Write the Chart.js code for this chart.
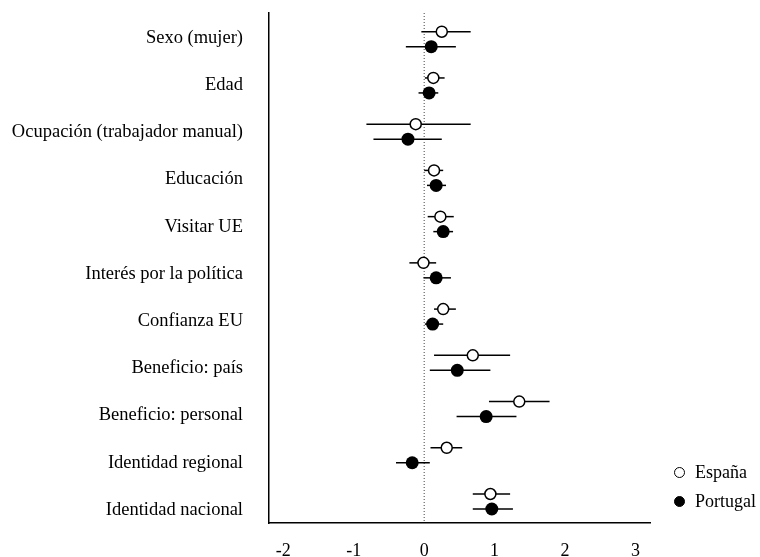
<!DOCTYPE html>
<html>
<head>
<meta charset="utf-8">
<script src="https://cdn.jsdelivr.net/npm/chart.js@4/dist/chart.umd.min.js"></script>
<style>
  html, body { margin: 0; padding: 0; background: #fff; }
  #wrap { position: relative; width: 760px; height: 557px; }
  #legend { position: absolute; left: 674px; top: 458px; font-family: "Liberation Serif", serif; font-size: 18px; color: #000; }
  #legend .item { display: flex; align-items: center; height: 29px; }
  #legend .dot { width: 9px; height: 9px; border: 1.5px solid #000; border-radius: 50%; margin-right: 10px; }
</style>
</head>
<body>
<div id="wrap">
  <canvas id="chart" width="760" height="557"></canvas>
  <div id="legend"></div>
</div>
<script>
const variables = ['Sexo (mujer)', 'Edad', 'Ocupación (trabajador manual)', 'Educación', 'Visitar UE',
  'Interés por la política', 'Confianza EU', 'Beneficio: país', 'Beneficio: personal',
  'Identidad regional', 'Identidad nacional'];
const seriesNames = ['España', 'Portugal'];

const espana   = [0.25, 0.13, -0.12, 0.14, 0.23, -0.01, 0.27, 0.69, 1.35, 0.32, 0.94];
const espanaLo = [-0.04, 0.01, -0.82, 0.00, 0.05, -0.21, 0.14, 0.14, 0.92, 0.09, 0.69];
const espanaHi = [0.66, 0.29, 0.66, 0.27, 0.42, 0.17, 0.45, 1.22, 1.78, 0.54, 1.22];

const portugal   = [0.10, 0.07, -0.23, 0.17, 0.27, 0.17, 0.12, 0.47, 0.88, -0.17, 0.96];
const portugalLo = [-0.26, -0.08, -0.72, 0.04, 0.13, -0.01, 0.01, 0.08, 0.46, -0.40, 0.69];
const portugalHi = [0.45, 0.20, 0.25, 0.31, 0.41, 0.38, 0.27, 0.94, 1.31, 0.08, 1.26];

const xTicks = [-2, -1, 0, 1, 2, 3];

const FONT = '"Liberation Serif", "Times New Roman", serif';
const OFFSET = 0.162; // vertical gap between the two series inside a row

function errorBars(lo, hi, shift) {
  return lo.map((l, i) => ({
    type: 'line',
    data: [{x: l, y: i + 1 + shift}, {x: hi[i], y: i + 1 + shift}],
    borderColor: '#000',
    borderWidth: 1.5,
    pointRadius: 0,
    yAxisID: 'y2',
    order: 2
  }));
}

const datasets = [
  {
    type: 'line',
    data: [{x: 0, y: 0.433}, {x: 0, y: 11.465}],
    borderColor: '#444',
    borderWidth: 1,
    borderDash: [1, 2],
    pointRadius: 0,
    yAxisID: 'y2',
    order: 3
  },
  ...errorBars(espanaLo, espanaHi, -OFFSET),
  ...errorBars(portugalLo, portugalHi, OFFSET),
  {
    label: seriesNames[0],
    type: 'scatter',
    data: espana.map((v, i) => ({x: v, y: i + 1 - OFFSET})),
    pointRadius: 5.5,
    pointBorderWidth: 1.5,
    pointBackgroundColor: '#fff',
    pointBorderColor: '#000',
    yAxisID: 'y2',
    order: 1
  },
  {
    label: seriesNames[1],
    type: 'scatter',
    data: portugal.map((v, i) => ({x: v, y: i + 1 + OFFSET})),
    pointRadius: 6.5,
    pointBorderWidth: 0,
    pointBackgroundColor: '#000',
    pointBorderColor: '#000',
    yAxisID: 'y2',
    order: 1
  }
];

const chart = new Chart(document.getElementById('chart'), {
  data: { datasets },
  options: {
    responsive: false,
    animation: false,
    layout: { padding: { top: 13, right: 110, bottom: 0, left: 0 } },
    plugins: { legend: { display: false }, tooltip: { enabled: false } },
    scales: {
      x: {
        type: 'linear',
        min: -2.203,
        max: 3.206,
        afterBuildTicks: s => { s.ticks = xTicks.map(v => ({value: v})); },
        afterFit: s => { s.height = 34; },
        grid: { display: false, drawTicks: true, tickLength: 17 },
        border: { display: true, color: '#000', width: 1.5 },
        ticks: { color: '#000', padding: 0, font: { family: FONT, size: 18 } }
      },
      y: {
        type: 'linear',
        reverse: true,
        min: 0.47,
        max: 11.275,
        afterBuildTicks: s => { s.ticks = variables.map((_, i) => ({value: i + 1})); },
        afterFit: s => { s.width = 269; },
        grid: { display: false, drawTicks: true, tickLength: 26 },
        border: { display: true, color: '#000', width: 1.5 },
        ticks: {
          color: '#000',
          padding: 0,
          font: { family: FONT, size: 18.5 },
          callback: v => variables[Math.round(v) - 1]
        }
      },
      y2: {
        type: 'linear',
        reverse: true,
        min: 0.433,
        max: 11.465,
        display: false
      }
    }
  }
});

// legend built from the two marker datasets
const legendEl = document.getElementById('legend');
chart.data.datasets.filter(d => d.label).forEach(d => {
  const item = document.createElement('div');
  item.className = 'item';
  const dot = document.createElement('span');
  dot.className = 'dot';
  dot.style.background = d.pointBackgroundColor;
  const txt = document.createElement('span');
  txt.textContent = d.label;
  item.appendChild(dot);
  item.appendChild(txt);
  legendEl.appendChild(item);
});
</script>
</body>
</html>
